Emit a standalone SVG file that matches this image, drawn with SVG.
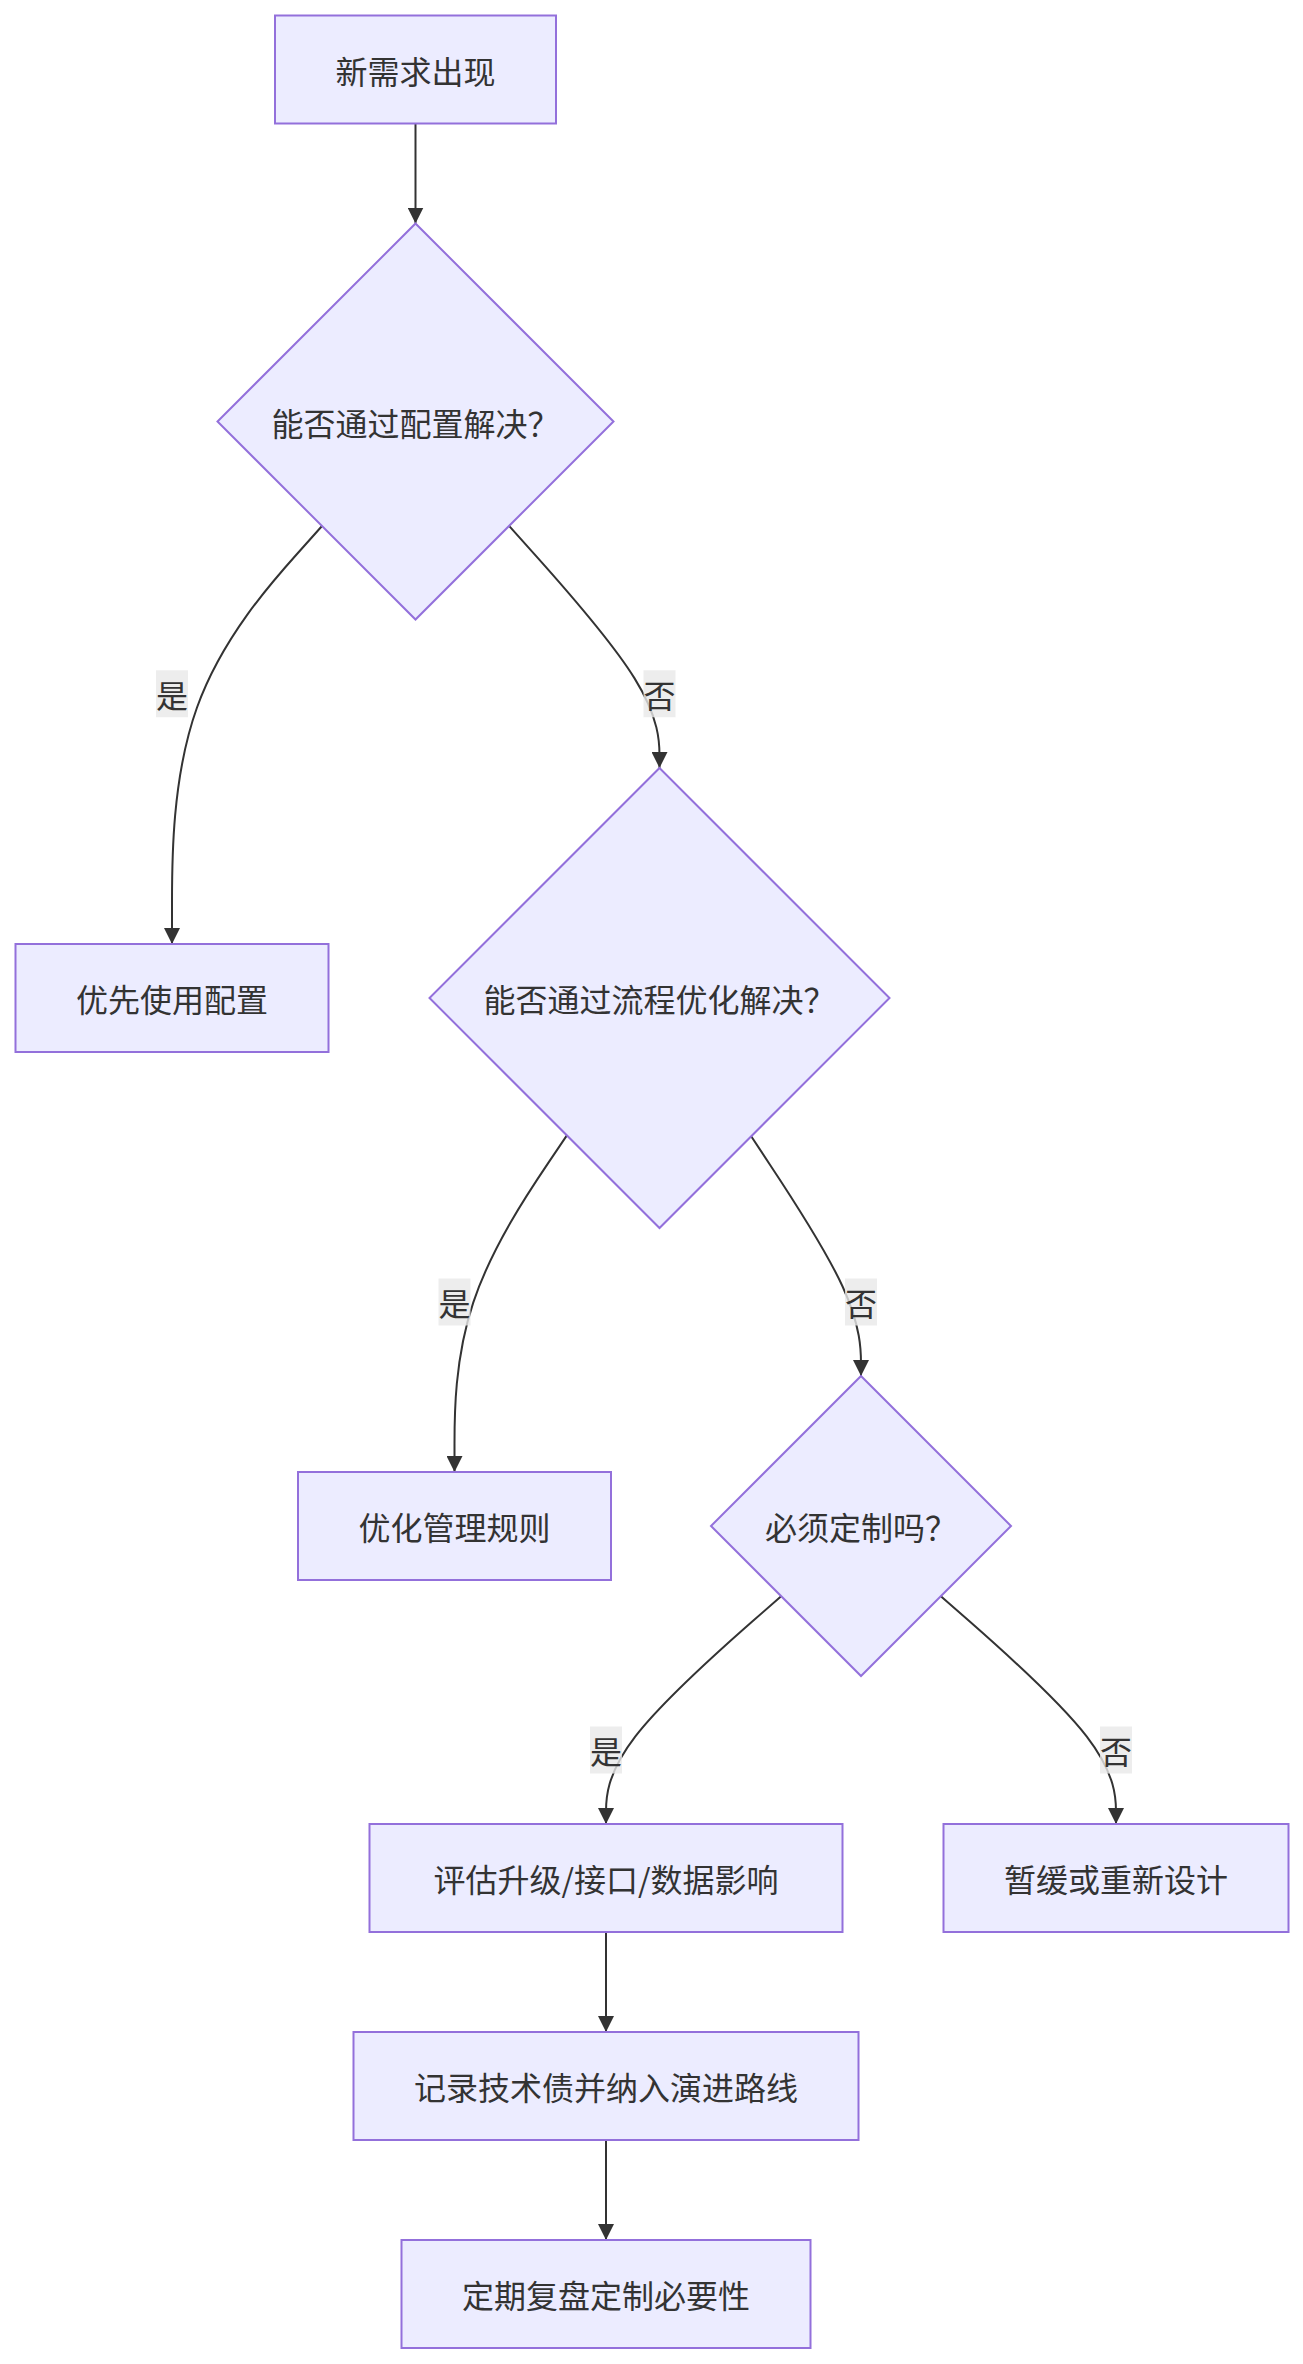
<svg xmlns="http://www.w3.org/2000/svg" width="1303" height="2364" viewBox="0 0 1303 2364">
<style>
.node rect,.node polygon{fill:#ECECFF;stroke:#9370DB;stroke-width:2}
.node text,.lbl text{font-family:"Noto Sans CJK SC","Noto Sans",sans-serif;font-size:32px;fill:#333;text-anchor:middle;dominant-baseline:central}
.edge{fill:none;stroke:#333;stroke-width:2}
.lbl rect{fill:#e8e8e8;fill-opacity:0.8}
</style>
<defs>
<marker id="arr" viewBox="0 0 10 10" refX="10" refY="5" markerUnits="userSpaceOnUse" markerWidth="16" markerHeight="16" orient="auto">
<path d="M0,0 L10,5 L0,10 z" fill="#333"/>
</marker>
</defs>
<rect width="1303" height="2364" fill="#fff"/>
<g id="edges">
<path class="edge" marker-end="url(#arr)" d="M415.5,123.5 L415.5,223.5"/>
<path class="edge" marker-end="url(#arr)" d="M322,526 L297,553.96 C272,581.92 222,637.83 197,707.5 C172,777.17 172,860.58 172,902.29 L172,944"/>
<path class="edge" marker-end="url(#arr)" d="M509.08,525.92 L534.15,553.9 C559.22,581.86 609.36,637.81 634.43,678.15 C659.5,718.5 659.5,743.25 659.5,755.63 L659.5,768"/>
<path class="edge" marker-end="url(#arr)" d="M566.87,1135.37 L548.14,1163.14 C529.41,1190.91 491.96,1246.46 473.23,1302.56 C454.5,1358.67 454.5,1415.33 454.5,1443.67 L454.5,1472"/>
<path class="edge" marker-end="url(#arr)" d="M751.18,1136.32 L769.48,1163.93 C787.79,1191.55 824.39,1246.77 842.7,1286.72 C861,1326.67 861,1351.33 861,1363.67 L861,1376"/>
<path class="edge" marker-end="url(#arr)" d="M781.15,1596.15 L751.96,1621.79 C722.77,1647.43 664.38,1698.72 635.19,1736.69 C606,1774.67 606,1799.33 606,1811.67 L606,1824"/>
<path class="edge" marker-end="url(#arr)" d="M940.85,1596.15 L970.04,1621.79 C999.23,1647.43 1057.62,1698.72 1086.81,1736.69 C1116,1774.67 1116,1799.33 1116,1811.67 L1116,1824"/>
<path class="edge" marker-end="url(#arr)" d="M606,1932 L606,2032"/>
<path class="edge" marker-end="url(#arr)" d="M606,2140 L606,2240"/>
<g class="lbl"><rect x="156" y="670.25" width="32" height="47"/><text x="172" y="693.75">是</text></g>
<g class="lbl"><rect x="643.5" y="670.25" width="32" height="47"/><text x="659.5" y="693.75">否</text></g>
<g class="lbl"><rect x="438.5" y="1278.5" width="32" height="47"/><text x="454.5" y="1302">是</text></g>
<g class="lbl"><rect x="845" y="1278.5" width="32" height="47"/><text x="861" y="1302">否</text></g>
<g class="lbl"><rect x="590" y="1726.5" width="32" height="47"/><text x="606" y="1750">是</text></g>
<g class="lbl"><rect x="1100" y="1726.5" width="32" height="47"/><text x="1116" y="1750">否</text></g>
</g>
<g id="A" class="node"><rect x="275" y="15.5" width="281" height="108"/><text x="415.5" y="69.5">新需求出现</text></g>
<g id="B" class="node"><polygon points="415.5,223.5 613.5,421.5 415.5,619.5 217.5,421.5"/><text x="415.5" y="421.5">能否通过配置解决？</text></g>
<g id="C" class="node"><rect x="15.5" y="944" width="313" height="108"/><text x="172" y="998">优先使用配置</text></g>
<g id="D" class="node"><polygon points="659.5,768 889.5,998 659.5,1228 429.5,998"/><text x="659.5" y="998">能否通过流程优化解决？</text></g>
<g id="E" class="node"><rect x="298" y="1472" width="313" height="108"/><text x="454.5" y="1526">优化管理规则</text></g>
<g id="F" class="node"><polygon points="861,1376 1011,1526 861,1676 711,1526"/><text x="861" y="1526">必须定制吗？</text></g>
<g id="G" class="node"><rect x="369.5" y="1824" width="473" height="108"/><text x="606" y="1878">评估升级/接口/数据影响</text></g>
<g id="H" class="node"><rect x="943.5" y="1824" width="345" height="108"/><text x="1116" y="1878">暂缓或重新设计</text></g>
<g id="I" class="node"><rect x="353.5" y="2032" width="505" height="108"/><text x="606" y="2086">记录技术债并纳入演进路线</text></g>
<g id="J" class="node"><rect x="401.5" y="2240" width="409" height="108"/><text x="606" y="2294">定期复盘定制必要性</text></g>
</svg>
